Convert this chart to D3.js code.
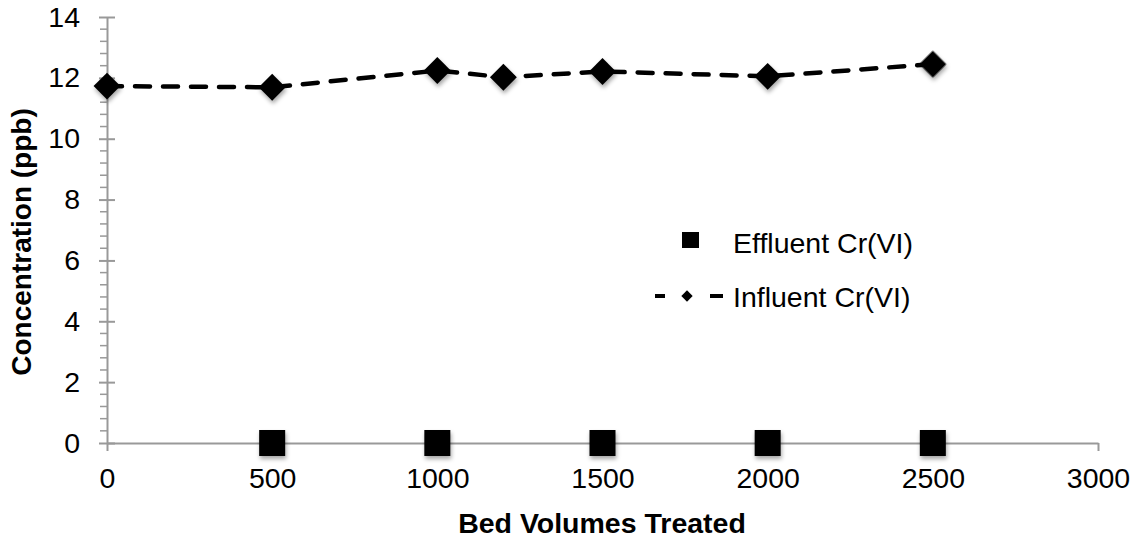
<!DOCTYPE html>
<html><head><meta charset="utf-8">
<script src="https://cdn.jsdelivr.net/npm/d3@7"></script>
<style>body{margin:0;background:#fff}svg{display:block}text{font-family:"Liberation Sans",Arial,sans-serif;fill:#000}</style>
</head><body><svg id="c" width="1138" height="542"></svg>
<script>
const xTicks = [0, 500, 1000, 1500, 2000, 2500, 3000];
const yTicks = [0, 2, 4, 6, 8, 10, 12, 14];
const effluentX = [500, 1000, 1500, 2000, 2500];
const effluentY = [0, 0, 0, 0, 0];
const influentX = [0, 500, 1000, 1200, 1500, 2000, 2500];
const influentY = [11.73, 11.69, 12.24, 12.02, 12.21, 12.05, 12.45];
const seriesNames = ["Effluent Cr(VI)", "Influent Cr(VI)"];

const svg = d3.select("#c");
const x = d3.scaleLinear().domain([0, 3000]).range([107, 1098]);
const y = d3.scaleLinear().domain([0, 14]).range([443, 17]);

const defs = svg.append("defs");
const f = defs.append("filter").attr("id","sh").attr("x","-50%").attr("y","-50%").attr("width","200%").attr("height","200%");
f.append("feDropShadow").attr("dx",1).attr("dy",3).attr("stdDeviation",2).attr("flood-color","#000").attr("flood-opacity",0.35);

const axisColor = "#999";
const fs = "28.5px";
// x axis
const gx = svg.append("g").attr("transform", `translate(0,${y(0)})`)
  .call(d3.axisBottom(x).tickValues(xTicks).tickFormat(d3.format("d")).tickSize(8).tickSizeOuter(0).tickPadding(17));
gx.select(".domain").attr("stroke", axisColor).attr("stroke-width", 2);
gx.selectAll(".tick line").attr("stroke", axisColor).attr("stroke-width", 2);
gx.selectAll(".tick text").style("font-size",fs).style("font-family",'"Liberation Sans",Arial,sans-serif').attr("fill","#000");

// y minor ticks
const minor = d3.range(0, 14.01, 0.4).filter(v => Math.abs(v/2 - Math.round(v/2)) > 1e-6);
svg.append("g").selectAll("line").data(minor).join("line")
  .attr("x1", x(0) - 7).attr("x2", x(0)).attr("y1", d => y(d)).attr("y2", d => y(d))
  .attr("stroke", axisColor).attr("stroke-width", 1.5);
// y axis
const gy = svg.append("g").attr("transform", `translate(${x(0)},0)`)
  .call(d3.axisLeft(y).tickValues(yTicks).tickSize(8).tickSizeOuter(0).tickPadding(19));
gy.select(".domain").attr("stroke", axisColor).attr("stroke-width", 2);
gy.selectAll(".tick line").attr("stroke", axisColor).attr("stroke-width", 2).attr("x2", 8).attr("x1", -8);
gy.selectAll(".tick text").style("font-size",fs).style("font-family",'"Liberation Sans",Arial,sans-serif').attr("fill","#000");

// titles
svg.append("text").attr("x", 602).attr("y", 533).attr("text-anchor","middle")
  .style("font-size","28.5px").style("font-weight","bold").text("Bed Volumes Treated");
svg.append("text").attr("transform","translate(31,242) rotate(-90)").attr("text-anchor","middle")
  .style("font-size","28px").style("font-weight","bold").text("Concentration (ppb)");

// influent line
const inf = influentX.map((d,i)=>[d, influentY[i]]);
svg.append("path").datum(inf)
  .attr("d", d3.line().x(d=>x(d[0])).y(d=>y(d[1])))
  .attr("fill","none").attr("stroke","#000").attr("stroke-width",4.5)
  .attr("stroke-dasharray","15,13").attr("stroke-linecap","round");
svg.append("g").attr("filter","url(#sh)").selectAll("rect").data(inf).join("rect")
  .attr("x", -9.5).attr("y", -9.5).attr("width", 19).attr("height", 19)
  .attr("transform", d => `translate(${x(d[0])},${y(d[1])}) rotate(45)`)
  .attr("fill","#000");

// effluent squares
const eff = effluentX.map((d,i)=>[d, effluentY[i]]);
svg.append("g").attr("filter","url(#sh)").selectAll("rect").data(eff).join("rect")
  .attr("x", d => x(d[0]) - 13).attr("y", d => y(d[1]) - 13)
  .attr("width", 26).attr("height", 26).attr("fill","#000");

// legend
const lg = svg.append("g");
lg.append("rect").attr("x", 682).attr("y", 232).attr("width", 17).attr("height", 16).attr("fill","#000");
lg.append("text").attr("x", 733).attr("y", 253).style("font-size","28.5px").text(seriesNames[0]);
lg.append("line").attr("x1", 655).attr("x2", 665).attr("y1", 296).attr("y2", 296).attr("stroke","#000").attr("stroke-width",4);
lg.append("line").attr("x1", 710).attr("x2", 723).attr("y1", 296).attr("y2", 296).attr("stroke","#000").attr("stroke-width",4);
lg.append("rect").attr("x",-4).attr("y",-4).attr("width",8).attr("height",8)
  .attr("transform","translate(687,296) rotate(45)").attr("fill","#000");
lg.append("text").attr("x", 733).attr("y", 307).style("font-size","28.5px").text(seriesNames[1]);
</script></body></html>
